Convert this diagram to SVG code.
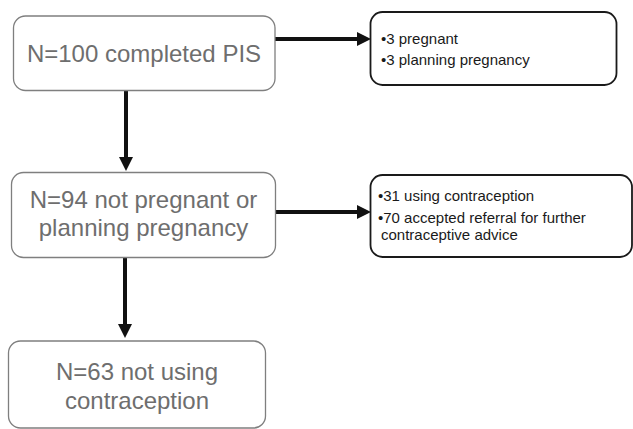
<svg xmlns="http://www.w3.org/2000/svg" width="633" height="429" viewBox="0 0 633 429">
<style>
.main rect{fill:#fff;stroke:#7f7f7f;stroke-width:1.3}
.side rect{fill:#fff;stroke:#1a1a1a;stroke-width:1.8}
.mt{font-family:"Liberation Sans",Arial,sans-serif;font-size:24px;fill:#6e6e6e;text-anchor:middle}
.st{font-family:"Liberation Sans",Arial,sans-serif;font-size:15px;fill:#1a1a1a}
.conn path{fill:none;stroke:#111;stroke-width:4}
</style>
<defs>
<marker id="ah" markerUnits="userSpaceOnUse" markerWidth="14" markerHeight="14" viewBox="0 0 14 14" refX="1" refY="7" orient="auto">
<path d="M0,0 L14,7 L0,14 z" fill="#111"/>
</marker>
</defs>
<rect width="633" height="429" fill="#fff"/>
<g class="conn" id="connectors">
<path d="M275,39 H358" marker-end="url(#ah)"/>
<path d="M126,91 V158" marker-end="url(#ah)"/>
<path d="M276,212 H358" marker-end="url(#ah)"/>
<path d="M125,257 V325" marker-end="url(#ah)"/>
</g>
<g id="n1" class="main">
<rect x="13.5" y="16" width="261.5" height="74.5" rx="12"/>
<text class="mt" x="144" y="61.5">N=100 completed PIS</text>
</g>
<g id="n2" class="side">
<rect x="370.5" y="12" width="246" height="73" rx="12"/>
<text class="st" x="381" y="43.5">•3 pregnant</text>
<text class="st" x="381" y="65">•3 planning pregnancy</text>
</g>
<g id="n3" class="main">
<rect x="11.5" y="172.5" width="264" height="85" rx="12"/>
<text class="mt" x="143.5" y="207.5">N=94 not pregnant or</text>
<text class="mt" x="143.5" y="235.5">planning pregnancy</text>
</g>
<g id="n4" class="side">
<rect x="370.5" y="175" width="261.5" height="82" rx="12"/>
<text class="st" x="378" y="201">•31 using contraception</text>
<text class="st" x="378" y="223">•70 accepted referral for further</text>
<text class="st" x="381" y="239.5">contraceptive advice</text>
</g>
<g id="n5" class="main">
<rect x="8.5" y="341" width="257" height="87" rx="12"/>
<text class="mt" x="137" y="380">N=63 not using</text>
<text class="mt" x="137" y="409">contraception</text>
</g>
</svg>
